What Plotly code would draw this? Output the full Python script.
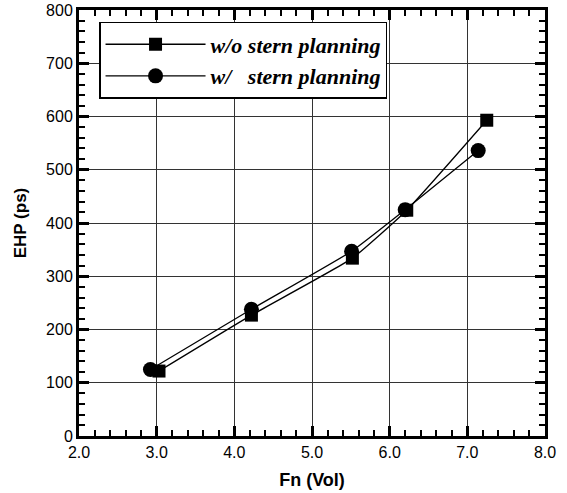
import plotly.graph_objects as go

fn_wo = [3.03, 4.22, 5.52, 6.22, 7.25]
ehp_wo = [122, 227, 334, 424, 593]
fn_w = [2.92, 4.22, 5.51, 6.20, 7.14]
ehp_w = [125, 238, 347, 425, 536]
names = ["w/o stern planning", "w/&nbsp;&nbsp; stern planning"]

fig = go.Figure()
fig.add_trace(go.Scatter(x=fn_wo, y=ehp_wo, name="<b><i>" + names[0] + "</i></b>", mode="lines+markers",
                         line=dict(color="black", width=1.3, shape="spline", smoothing=0.4),
                         marker=dict(symbol="square", size=13, color="black")))
fig.add_trace(go.Scatter(x=fn_w, y=ehp_w, name="<b><i>" + names[1] + "</i></b>", mode="lines+markers",
                         line=dict(color="black", width=1.3, shape="spline", smoothing=0.4),
                         marker=dict(symbol="circle", size=15, color="black")))

tickfont = dict(family="Liberation Sans, Arial", size=16, color="black")
common = dict(ticks="inside", ticklen=10, tickwidth=2.5, tickcolor="black", zeroline=False, automargin=False,
              showline=True, linewidth=3, linecolor="black", mirror="allticks",
              showgrid=True, gridcolor="#333", gridwidth=1, tickfont=tickfont)

xminor = dict(dtick=0.2, ticks="inside", ticklen=6, tickwidth=1.5, tickcolor="black", showgrid=False)
yminor = dict(dtick=20, ticks="inside", ticklen=6, tickwidth=1.5, tickcolor="black", showgrid=False)

fig.update_layout(
    width=567, height=493,
    margin=dict(l=79, r=22, t=10, b=57),
    paper_bgcolor="white", plot_bgcolor="white",
    showlegend=True,
    xaxis=dict(range=[2, 8], dtick=1, tickformat=".1f", minor=xminor, ticklabelstandoff=0,
               title=dict(text="<b>Fn (Vol)</b>", font=dict(family="Liberation Sans, Arial", size=18, color="black"), standoff=14),
               **common),
    yaxis=dict(range=[0, 800], dtick=100, minor=yminor,
               title=dict(text="<b>EHP (ps)</b>", font=dict(family="Liberation Sans, Arial", size=17, color="black"), standoff=16),
               **common),
    legend=dict(x=0.043, y=0.972, xanchor="left", yanchor="top",
                bgcolor="white", bordercolor="black", borderwidth=1.5,
                itemwidth=100, tracegroupgap=0,
                font=dict(family="Liberation Serif, Times New Roman", size=22, color="black")),
)

fig.write_html("out.html")
